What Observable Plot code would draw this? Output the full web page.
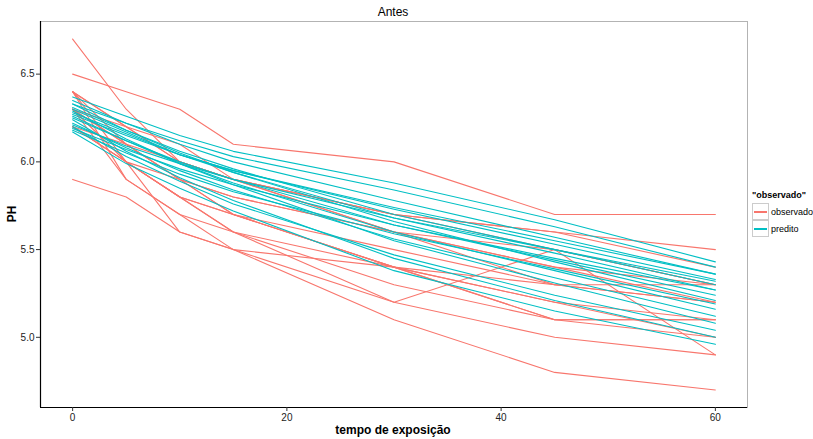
<!DOCTYPE html>
<html>
<head>
<meta charset="utf-8">
<script src="https://cdn.jsdelivr.net/npm/d3@7"></script>
<script src="https://cdn.jsdelivr.net/npm/@observablehq/plot@0.6"></script>
<style>
  body { margin: 0; background: #fff; font-family: "Liberation Sans", Arial, sans-serif; }
  #wrap { position: relative; width: 813px; height: 439px; }
  #wrap > svg { position: absolute; left: 0; top: 0; font-family: "Liberation Sans", Arial, sans-serif; }
  .lbl { position: absolute; color: #000; white-space: nowrap; }
  #title { left: 393px; top: 5px; transform: translateX(-50%); font-size: 12px; }
  #xlab { left: 393px; top: 423px; transform: translateX(-50%); font-size: 12px; font-weight: bold; }
  #ylab { left: 12px; top: 214px; transform: translate(-50%, -50%) rotate(-90deg); font-size: 12px; font-weight: bold; }
  #legend { position: absolute; left: 752px; top: 190px; font-size: 9px; }
  #legend .ttl { font-weight: bold; margin-bottom: 3px; }
  #legend .row { display: flex; align-items: center; height: 17px; }
  #legend .key { width: 17px; height: 17px; margin-right: 2px; box-sizing: border-box; border: 1px solid #ccc; position: relative; background: #fff; }
  #legend .key i { position: absolute; left: 1px; right: 1px; top: 7px; height: 1.5px; display: block; }
</style>
</head>
<body>
<div id="wrap">
  <div id="title" class="lbl">Antes</div>
  <div id="xlab" class="lbl">tempo de exposição</div>
  <div id="ylab" class="lbl">PH</div>
</div>
<script>
// Time points (minutes)
const times = [0, 5, 10, 15, 30, 45, 60];

// Observed PH series (one per subject)
const observado = [
  [6.5, 6.4, 6.3, 6.1, 6.0, 5.7, 5.7],
  [6.7, 6.3, 6.0, 5.9, 5.6, 5.4, 5.3],
  [5.9, 5.8, 5.6, 5.5, 5.4, 5.3, 5.2],
  [6.4, 6.2, 6.0, 5.9, 5.7, 5.6, 5.5],
  [6.4, 6.1, 5.9, 5.8, 5.6, 5.5, 5.3],
  [6.4, 6.0, 5.8, 5.7, 5.4, 5.2, 5.1],
  [6.4, 5.9, 5.7, 5.6, 5.2, 5.5, 4.9],
  [6.3, 6.1, 6.0, 5.9, 5.7, 5.6, 5.4],
  [6.3, 6.0, 5.8, 5.7, 5.5, 5.3, 5.3],
  [6.3, 6.0, 5.6, 5.5, 5.2, 5.0, 4.9],
  [6.3, 5.9, 5.7, 5.5, 5.1, 4.8, 4.7],
  [6.2, 6.1, 5.9, 5.8, 5.6, 5.4, 5.2],
  [6.2, 6.0, 5.9, 5.7, 5.4, 5.1, 5.0],
  [6.3, 6.2, 6.0, 5.9, 5.7, 5.5, 5.3],
  [6.4, 6.2, 6.1, 5.9, 5.6, 5.3, 5.2],
  [6.2, 6.0, 5.8, 5.6, 5.4, 5.1, 5.1],
  [6.3, 6.1, 5.9, 5.7, 5.4, 5.2, 5.0],
  [6.2, 6.0, 5.8, 5.6, 5.3, 5.1, 5.1]
];

// Predicted PH series (one per subject)
const predito = [
  [6.37, 6.26, 6.15, 6.06, 5.88, 5.67, 5.43],
  [6.33, 6.22, 6.12, 6.03, 5.84, 5.63, 5.40],
  [6.35, 6.22, 6.10, 6.00, 5.78, 5.57, 5.36],
  [6.28, 6.16, 6.04, 5.95, 5.73, 5.53, 5.33],
  [6.31, 6.18, 6.06, 5.96, 5.70, 5.50, 5.30],
  [6.21, 6.09, 5.99, 5.90, 5.68, 5.50, 5.32],
  [6.30, 6.17, 6.04, 5.94, 5.68, 5.48, 5.27],
  [6.25, 6.12, 6.00, 5.90, 5.64, 5.44, 5.24],
  [6.33, 6.18, 6.05, 5.94, 5.66, 5.43, 5.21],
  [6.18, 6.05, 5.93, 5.83, 5.59, 5.39, 5.19],
  [6.26, 6.12, 5.99, 5.88, 5.60, 5.38, 5.16],
  [6.22, 6.08, 5.95, 5.84, 5.56, 5.34, 5.12],
  [6.29, 6.13, 5.99, 5.87, 5.55, 5.31, 5.08],
  [6.20, 6.03, 5.89, 5.76, 5.47, 5.24, 5.04],
  [6.24, 6.06, 5.91, 5.78, 5.45, 5.21, 5.00],
  [6.17, 5.99, 5.85, 5.72, 5.38, 5.15, 4.96],
  [6.27, 6.15, 6.04, 5.95, 5.74, 5.55, 5.36],
  [6.19, 6.07, 5.96, 5.87, 5.64, 5.45, 5.27]
];

const groups = ["observado", "predito"];
const groupColors = ["#F8766D", "#00BFC4"];
const xTicks = [0, 20, 40, 60];
const yTicks = [5.0, 5.5, 6.0, 6.5];
const xDomain = [-3, 63];
const yDomain = [4.6, 6.8];

const rows = [];
[observado, predito].forEach((set, gi) => {
  set.forEach((series, si) => {
    series.forEach((v, ti) => {
      rows.push({ t: times[ti], ph: v, grupo: groups[gi], id: groups[gi] + si });
    });
  });
});

const chart = Plot.plot({
  width: 813,
  height: 439,
  marginLeft: 40,
  marginRight: 66,
  marginTop: 21,
  marginBottom: 32,
  style: { background: "transparent", fontFamily: "Liberation Sans, Arial, sans-serif" },
  x: { domain: xDomain, label: null },
  y: { domain: yDomain, label: null },
  color: { domain: groups, range: groupColors },
  marks: [
    Plot.frame({ stroke: "#b3b3b3", strokeWidth: 1 }),
    Plot.line(rows, { x: "t", y: "ph", z: "id", stroke: "grupo", strokeWidth: 1.1 }),
    Plot.ruleX([xDomain[0]], { stroke: "#000", strokeWidth: 1.2 }),
    Plot.ruleY([yDomain[0]], { stroke: "#000", strokeWidth: 1.2 }),
    Plot.axisX({ ticks: xTicks, tickSize: 4, tickPadding: 2, fontSize: 10, fill: "#222", stroke: "#333", label: null }),
    Plot.axisY({ ticks: yTicks, tickSize: 4, tickPadding: 2, fontSize: 10, fill: "#222", stroke: "#333", tickFormat: d3.format(".1f"), label: null })
  ]
});

const wrap = document.getElementById("wrap");
wrap.insertBefore(chart, wrap.firstChild);

// Legend
const legend = document.createElement("div");
legend.id = "legend";
legend.innerHTML = '<div class="ttl">"observado"</div>' +
  groups.map((g, i) =>
    `<div class="row"><div class="key"><i style="background-color:${groupColors[i]}"></i></div>${g}</div>`
  ).join("");
wrap.appendChild(legend);
</script>
</body>
</html>
